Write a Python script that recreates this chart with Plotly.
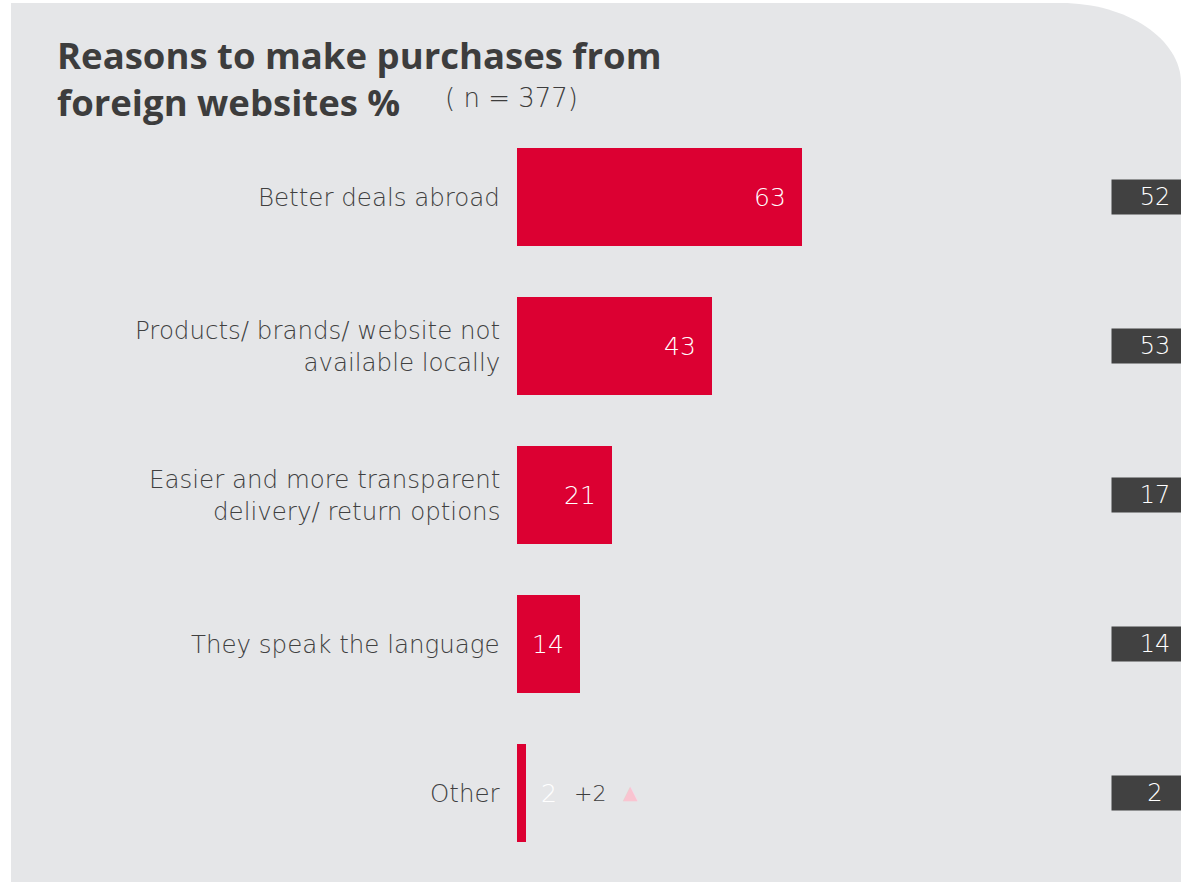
import plotly.graph_objects as go

# Survey results (%), n = 377
categories = [
    "Better deals abroad",
    "Products/ brands/ website not<br>available locally",
    "Easier and more transparent<br>delivery/ return options",
    "They speak the language",
    "Other",
]
values = [63, 43, 21, 14, 2]
comparison = [52, 53, 17, 14, 2]
deltas = ["", "", "", "", "+2"]

W, H = 1181, 883
RED = "#dc0032"
DARK = "#3d3d3d"
TEXT = "#404040"
BOX = "#414141"
PANEL = "#e5e6e8"
TITLE_FONT = "Open Sans"
LIGHT_FONT = "DejaVu Sans"

def px(x):
    return x / W

def py(y):
    return 1 - y / H

# axis geometry: x=0 sits at pixel 517, 4.524 px per percentage point
x0_px, scale = 517, 4.524
x_max = (W - x0_px) / scale
row_px, first_px = 149, 197
y_top = -first_px / row_px
y_bot = (H - first_px) / row_px
ypos = list(range(len(categories)))

fig = go.Figure()
fig.add_trace(go.Bar(
    x=values, y=ypos, orientation="h",
    marker=dict(color=RED, line=dict(width=0)),
    width=0.664, hoverinfo="skip", showlegend=False,
))

annotations = []
for i, (cat, v, c, d) in enumerate(zip(categories, values, comparison, deltas)):
    # category label, right aligned left of the bars
    annotations.append(dict(
        x=px(502), xref="paper", y=i, yref="y", text=cat, showarrow=False,
        xanchor="right", yanchor="middle", align="right",
        font=dict(family=LIGHT_FONT, size=24.5, color=TEXT, weight=200),
    ))
    # value label: inside the bar end, or just past it for small bars
    inside = v >= 10
    annotations.append(dict(
        x=v, xref="x", y=i, yref="y", text=str(v), showarrow=False,
        xanchor="right" if inside else "left", xshift=-14 if inside else 13,
        yanchor="middle",
        font=dict(family=LIGHT_FONT, size=25, color="white", weight=200),
    ))
    # change indicator
    if d:
        annotations.append(dict(
            x=v, xref="x", y=i, yref="y", text=d, showarrow=False,
            xanchor="left", xshift=46, yanchor="middle",
            font=dict(family=LIGHT_FONT, size=22, color=DARK, weight=200),
        ))
        annotations.append(dict(
            x=v, xref="x", y=i, yref="y", text="▲", showarrow=False,
            xanchor="left", xshift=95, yanchor="middle", yshift=1,
            font=dict(family="DejaVu Sans", size=19, color="#f9c4d0"),
        ))
    # comparison box on the right
    annotations.append(dict(
        x=px(1111), xref="paper", y=i, yref="y", text=str(c), showarrow=False,
        xanchor="left", yanchor="middle", width=80, height=28, borderpad=3,
        bgcolor=BOX, align="center",
        font=dict(family=LIGHT_FONT, size=24, color="white", weight=200),
    ))

# title
annotations.append(dict(
    x=px(55), xref="paper", y=py(28), yref="paper",
    text="Reasons to make purchases from<br>foreign websites %",
    showarrow=False, xanchor="left", yanchor="top", align="left",
    font=dict(family=TITLE_FONT, size=36.5, color=DARK, weight=700),
))
annotations.append(dict(
    x=px(443), xref="paper", y=py(98), yref="paper", text="( n = 377)",
    showarrow=False, xanchor="left", yanchor="middle",
    font=dict(family=LIGHT_FONT, size=26, color=DARK, weight=200),
))

# grey panel with a rounded upper-right corner
panel = (
    f"M {px(11)},{py(3)} L {px(1061)},{py(3)} "
    f"C {px(1127)},{py(3)} {px(1181)},{py(39)} {px(1181)},{py(83)} "
    f"L {px(1181)},{py(882)} L {px(11)},{py(882)} Z"
)

fig.update_layout(
    width=W, height=H,
    margin=dict(l=0, r=0, t=0, b=0),
    paper_bgcolor="white", plot_bgcolor="rgba(0,0,0,0)",
    xaxis=dict(domain=[px(x0_px), 1], range=[0, x_max], visible=False, fixedrange=True),
    yaxis=dict(domain=[0, 1], range=[y_bot, y_top], visible=False, fixedrange=True),
    shapes=[dict(type="path", path=panel, xref="paper", yref="paper",
                 fillcolor=PANEL, line=dict(width=0), layer="below")],
    annotations=annotations,
    bargap=0,
)

fig.write_html("out.html", config={"displayModeBar": False})
